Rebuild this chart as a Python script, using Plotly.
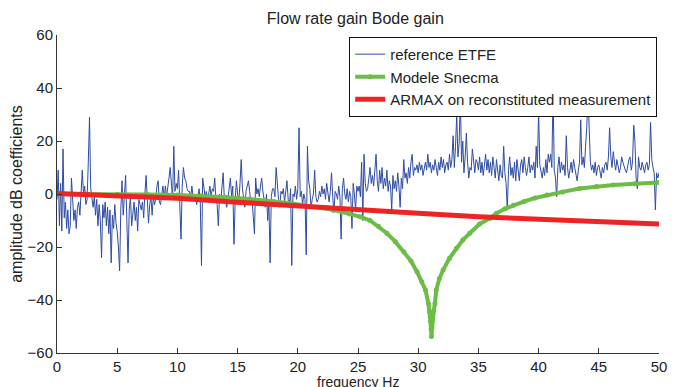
import numpy as np
import plotly.graph_objects as go

# reference ETFE, one row per Hz (0.0 .. 0.9), last value is 50.0 Hz
etfe_rows = [
    [-2, 9, -12, 4, -14, 17, -9, -3, -13, -6],
    [-15, -12, 6, -4, -10, -6, -13, -5, -3, -8],
    [1, 9, 0, 3, -4, -2, 12, 29, 2, -2],
    [-5, -1, -8, -2, -12, -4, -10, -24, -4, -9],
    [-3, -12, -5, -15, -6, -26, -8, -13, -4, -11],
    [-14, -20, -29, -6, 5, -8, -2, 7, -10, -26],
    [-6, -1, -12, -7, -3, -10, -5, -14, -2, -4],
    [-6, -3, -9, 0, 7, -2, -11, -4, -1, -8],
    [-1, -4, -2, 3, 5, -3, -4, 0, 3, -2],
    [3, -1, 2, 6, 10, 3, -2, 18, 1, 4],
    [2, 9, -5, -17, 3, 10, 6, 5, 2, 1],
    [1, -2, 3, -1, -2, 0, -4, -1, 2, -3],
    [-27, 6, 2, -1, 1, -2, 0, 3, -1, 2],
    [1, 6, -2, -4, -12, 0, -3, 2, 8, -2],
    [-3, -5, 0, 2, 6, -1, 3, -19, -2, 5],
    [0, -3, 4, 13, 2, -1, -5, 1, 3, 5],
    [1, -3, -2, -9, -15, 6, 0, 2, -1, 3],
    [6, 1, -2, -5, 0, -10, -3, -26, -1, 2],
    [2, -1, 10, 3, -2, -5, 1, 0, 2, -3],
    [1, 5, -2, -5, 2, -27, 0, -1, 3, -2],
    [2, 25, -1, 1, -4, 0, -2, -23, 18, 5],
    [2, -5, -2, 0, 9, -1, -3, -2, 1, -1],
    [3, 0, 2, -2, 4, 1, -3, 1, 8, -1],
    [-7, 1, 0, -2, 3, -1, -17, 2, 6, 0],
    [-2, 2, -3, 1, -1, -13, 4, 0, -6, 3],
    [1, 3, -1, 12, -10, 15, 4, 1, 2, 6],
    [10, 4, 7, 3, 8, 15, 5, 1, 9, 4],
    [10, 2, 6, 3, 9, 1, 5, 3, -6, 7],
    [2, 5, 1, 8, 3, -5, 6, 2, 13, 6],
    [8, 4, 10, 6, 12, 15, 7, 10, 9, 11],
    [8, 12, 9, 11, 7, 10, 12, 9, 15, 10],
    [12, 8, 11, 9, 13, 10, 7, 12, 9, 14],
    [10, 13, 8, 11, 12, 9, 15, 10, 13, 22],
    [10, 18, 30, 14, 19, 37, 12, 20, 8, 14],
    [23, 12, 6, 10, 9, 17, 11, 8, 13, 12],
    [9, 14, 8, 12, 7, 11, 15, 9, 13, 8],
    [12, 7, 14, 10, 6, 13, 9, 5, 11, 7],
    [6, 18, 8, 4, -6, 9, 14, 7, 10, 6],
    [12, 5, 13, 9, 5, 11, 13, 8, 14, 10],
    [7, 10, 14, 8, 11, 9, 12, 6, 18, 10],
    [32, 11, 9, 6, 10, 7, 13, 8, 15, 12],
    [15, 10, 39, 9, 6, -1, 10, 14, 8, 12],
    [9, 11, 7, 22, 10, 6, 9, 12, 8, 13],
    [10, 7, 5, 9, 12, 28, 11, 14, 10, 18],
    [25, 38, 20, 12, 9, 11, 8, 12, 7, 10],
    [11, 9, 6, 10, 8, 11, 12, 9, 14, 25],
    [14, 10, 16, 12, 9, 13, 11, 8, 10, 14],
    [12, 10, 9, 8, 11, 13, 14, 9, 12, 26],
    [20, 6, 2, 14, 10, 9, 12, 10, 8, 11],
    [12, 9, 11, 27, 13, 10, 8, -6, 8, 6],
]
etfe_last = 8

# Modele Snecma
snecma_f = [0, 2.5, 5, 7.5, 10, 12, 14, 16, 18, 19.4, 21, 22.9, 24.3, 25.2, 26.0,
            26.7, 27.4, 28.1, 28.8, 29.4, 29.9, 30.3, 30.6, 30.85, 30.95, 31.02,
            31.07, 31.1, 31.15, 31.2, 31.3, 31.39, 31.5, 31.75, 32.07, 32.6, 33.17,
            33.7, 34.28, 35.1, 35.94, 36.5, 37.2, 37.9, 38.8, 39.7, 40.7, 42, 43.4,
            44.8, 46.2, 48, 50]
snecma_db = [0, 0, -0.1, -0.2, -0.4, -0.7, -1.2, -1.9, -2.8, -3.5, -4.6, -6.0, -7.5,
             -8.6, -10.0, -12.2, -14.8, -18.0, -21.8, -25.3, -29.3, -33, -36.2, -41.3,
             -44.5, -48, -51, -53.8, -50.5, -47, -44, -41.3, -36.2, -32, -28.7, -24.2,
             -20.5, -17.4, -14.8, -11.3, -9.2, -7.3, -5.6, -4.2, -2.8, -1.5, -0.4, 0.8,
             2.1, 2.8, 3.4, 3.9, 4.3]

# ARMAX on reconstituted measurement
armax_f = [0, 5, 10, 15, 20, 25, 30, 35, 40, 45, 50]
armax_db = [0.2, -0.6, -1.6, -3.1, -4.6, -6.0, -7.3, -8.6, -9.6, -10.5, -11.3]

etfe_db = [v for row in etfe_rows for v in row] + [etfe_last]
etfe_f = np.round(np.arange(len(etfe_db)) * 0.1, 1)

font = "Liberation Sans, Arial, sans-serif"

fig = go.Figure()
fig.add_trace(go.Scatter(x=etfe_f, y=etfe_db, mode="lines", name="reference ETFE",
                         line=dict(color="#2f4ca3", width=1)))
fig.add_trace(go.Scatter(x=snecma_f, y=snecma_db, mode="lines+markers", name="Modele Snecma",
                         line=dict(color="#6cbd45", width=4),
                         marker=dict(color="#6cbd45", size=5)))
fig.add_trace(go.Scatter(x=armax_f, y=armax_db, mode="lines+markers",
                         name="ARMAX on reconstituted measurement",
                         line=dict(color="#ee2424", width=5),
                         marker=dict(color="#ee2424", size=4)))

axis_style = dict(showgrid=False, zeroline=False, showline=True, linecolor="#333",
                  linewidth=1, ticks="inside", ticklen=5, tickcolor="#333",
                  tickfont=dict(size=15, color="#222"), mirror=False, automargin=False)

# the page body adds an 8px offset, margins below account for it
fig.update_layout(
    width=681, height=387,
    margin=dict(l=49, r=30, t=27, b=42, autoexpand=False),
    paper_bgcolor="white", plot_bgcolor="white",
    font=dict(family=font, color="#222"),
    title=dict(text="Flow rate gain Bode gain", x=0.51, xanchor="center",
               y=0.974, yanchor="middle", font=dict(size=16)),
    xaxis=dict(range=[0, 50], dtick=5, **axis_style),
    yaxis=dict(range=[-60, 60], dtick=20,
               title=dict(text="amplitude dB coefficients", font=dict(size=16), standoff=4),
               **axis_style),
    legend=dict(x=0.997, xanchor="right", y=0.994, yanchor="top",
                bgcolor="white", bordercolor="#111", borderwidth=1,
                font=dict(size=15), itemwidth=30, tracegroupgap=0),
    showlegend=True,
)

# x label sits tight under the tick labels, as in the reference
fig.add_annotation(text="frequency Hz", xref="paper", yref="paper", x=0.5, y=-0.06,
                   xanchor="center", yanchor="top", showarrow=False,
                   font=dict(size=14, color="#222"))

fig.write_html("out.html")
